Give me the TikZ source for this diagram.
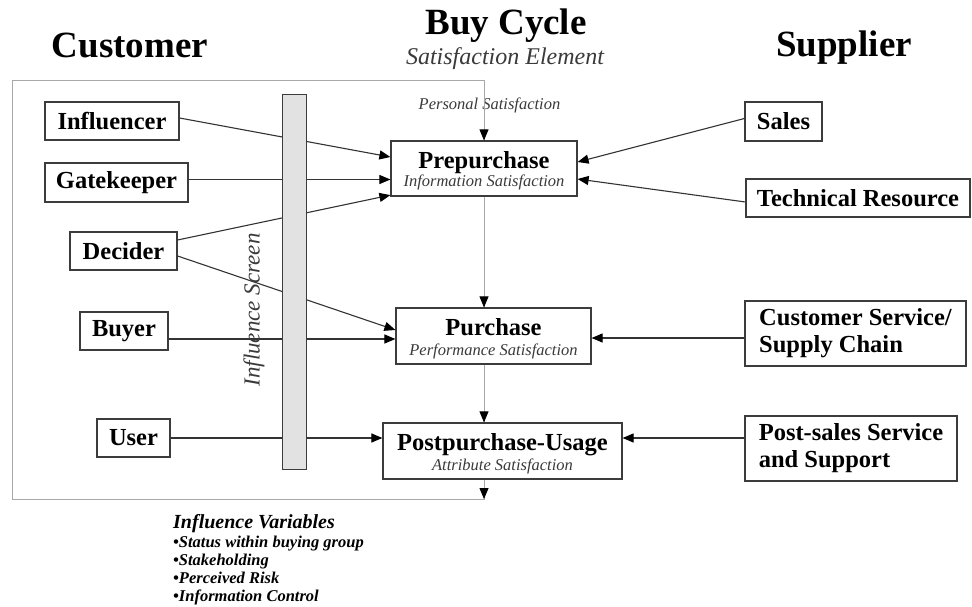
\documentclass[tikz,border=0pt]{standalone}
\usepackage{fontspec}
\setmainfont{Liberation Serif}
\usetikzlibrary{arrows.meta,calc}
\definecolor{boxc}{HTML}{3C3C3C}
\definecolor{linec}{HTML}{333333}
\definecolor{flowc}{HTML}{A8A8A8}
\definecolor{subc}{HTML}{3A3A3A}
\definecolor{barfill}{HTML}{E2E2E2}
\begin{document}
\begin{tikzpicture}[x=1pt,y=-1pt,
  box/.style={draw=boxc, line width=1.2pt, fill=white, inner sep=0pt, align=center,
    font=\fontsize{24.5}{27}\selectfont\bfseries},
  tbox/.style={draw=boxc, line width=1.2pt, fill=white, inner sep=0pt},
  boxtitle/.style={anchor=base, inner sep=0pt, font=\fontsize{24.5}{27}\selectfont\bfseries},
  boxsub/.style={anchor=base, inner sep=0pt, text=subc, font=\fontsize{16.5}{18}\selectfont\itshape},
  heading/.style={anchor=base, inner sep=0pt, font=\fontsize{37}{40}\selectfont\bfseries},
  conn/.style={draw=linec, line width=1.1pt, -{Triangle[length=11pt,width=9pt,color=black]}},
  flow/.style={draw=flowc, line width=0.8pt, -{Triangle[length=11pt,width=9pt,color=black]}},
  varitem/.style={anchor=base west, inner sep=0pt, font=\fontsize{16.5}{18}\selectfont\bfseries\itshape}
]
\useasboundingbox (0,0) rectangle (972,607);
\fill[white] (0,0) rectangle (972,607);

% outer customer frame
\draw[flowc, line width=0.8pt] (12,80) rectangle (484,499);

% headings
\node[heading] (hcust) at (130,58) {Customer};
\node[heading] (hbuy) at (506,35) {Buy Cycle};
\node[anchor=base, inner sep=0pt, text=subc, font=\fontsize{24}{26}\selectfont\itshape] (hsat) at (505,65) {Satisfaction Element};
\node[heading] (hsup) at (844,57) {Supplier};
\node[anchor=base, inner sep=0pt, text=subc, font=\fontsize{16.5}{18}\selectfont\itshape] (pers) at (489.5,110) {Personal Satisfaction};

% customer roles
\node[box, minimum width=134pt, minimum height=38pt] (infl) at (112,121) {Influencer};
\node[box, minimum width=143pt, minimum height=39pt] (gate) at (116.5,182.5) {Gatekeeper};
\node[box, minimum width=107pt, minimum height=38pt] (dec) at (123.5,251) {Decider};
\node[box, minimum width=88pt, minimum height=38pt] (buy) at (124,331) {Buyer};
\node[box, minimum width=73pt, minimum height=38pt] (user) at (133.5,438) {User};

% buy cycle stages
\node[tbox, minimum width=186pt, minimum height=55pt] (pre) at (484,168.5) {};
\node[boxtitle] (preT) at ([yshift=0.5pt]pre.center) {Prepurchase};
\node[boxsub] (preS) at ([yshift=-17.5pt]pre.center) {Information Satisfaction};

\node[tbox, minimum width=195pt, minimum height=56pt] (pur) at (493.5,336) {};
\node[boxtitle] (purT) at ([yshift=1pt]pur.center) {Purchase};
\node[boxsub] (purS) at ([yshift=-19pt]pur.center) {Performance Satisfaction};

\node[tbox, minimum width=239pt, minimum height=56pt] (post) at (502.5,451) {};
\node[boxtitle] (postT) at ([yshift=1pt]post.center) {Postpurchase-Usage};
\node[boxsub] (postS) at ([yshift=-19pt]post.center) {Attribute Satisfaction};

% supplier roles
\node[box, minimum width=77pt, minimum height=39pt] (sales) at (783.5,121.5) {Sales};
\node[box, minimum width=224pt, minimum height=38pt] (tech) at (858,198) {Technical Resource};
\node[box, align=left, minimum width=221pt, minimum height=65pt] (cs) at (855.5,333.5) {Customer Service/\\Supply Chain};
\node[box, align=left, minimum width=212pt, minimum height=65pt] (ps) at (851,448.5) {Post-sales Service\\and Support};

% flow through the buy cycle
\coordinate (ftop) at (484,80);
\coordinate (fbot) at (484,499);
\draw[flow] (ftop) -- (pre.north);
\draw[flow] (pre.south) -- (pre.south |- pur.north);
\draw[flow] (pre.south |- pur.south) -- (pre.south |- post.north);
\draw[flow] (pre.south |- post.south) -- (fbot);

% customer connectors
\draw[conn] ([yshift=3pt]infl.east) -- ([yshift=11.5pt]pre.west);
\draw[conn] ([yshift=3pt]gate.east) -- ([yshift=3pt]gate.east -| pre.west);
\draw[conn] ([yshift=11pt]dec.east) -- ([yshift=1.5pt]pre.south west);
\draw[conn] ([yshift=-5pt]dec.east) -- ([yshift=6pt]pur.west);
\draw[conn] ([yshift=-8pt]buy.east) -- ([yshift=-8pt]buy.east -| pur.west);
\draw[conn] (user.east) -- (user.east -| post.west);

% supplier connectors
\draw[conn] ([yshift=3pt]sales.west) -- ([yshift=6.5pt]pre.east);
\draw[conn] ([yshift=-4pt]tech.west) -- ([yshift=-10.5pt]pre.east);
\draw[conn] ([yshift=-4.5pt]cs.west) -- ([yshift=-4.5pt]cs.west -| pur.east);
\draw[conn] ([yshift=10.5pt]ps.west) -- ([yshift=10.5pt]ps.west -| post.east);

% influence screen
\node[draw=boxc, line width=1pt, fill=barfill, inner sep=0pt, minimum width=24pt, minimum height=374pt] (screen) at (294,282) {};
\node[rotate=90, inner sep=0pt, text=subc, font=\fontsize{23}{25}\selectfont\itshape] (scrlab) at (254,310) {Influence Screen};

% influence variables
\node[anchor=base west, inner sep=0pt, font=\fontsize{20}{22}\selectfont\bfseries\itshape] (ivar) at (173,528) {Influence Variables};
\node[varitem] (iv1) at (173,547) {•Status within buying group};
\node[varitem] (iv2) at (173,565) {•Stakeholding};
\node[varitem] (iv3) at (173,583) {•Perceived Risk};
\node[varitem] (iv4) at (173,601) {•Information Control};
\end{tikzpicture}
\end{document}
